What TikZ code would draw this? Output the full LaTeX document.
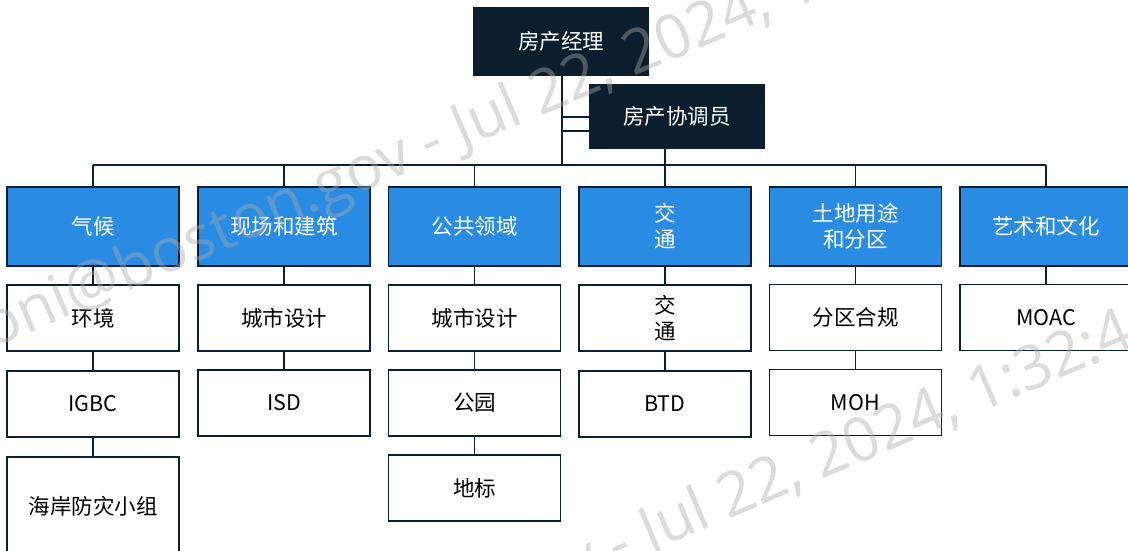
\documentclass[tikz,border=0pt]{standalone}
\usepackage{fontspec}
\setmainfont{Noto Sans CJK SC}
\newfontfamily\stampfont{Open Sans}
\definecolor{navy}{HTML}{0C1F2E}
\definecolor{midblue}{HTML}{2A8BE2}
\definecolor{stampgray}{HTML}{AAAAAA}

\begin{document}
\begin{tikzpicture}[x=1pt,y=-1pt,
    box/.style={draw=navy,line width=1.8pt,minimum width=172pt,minimum height=66pt,
      inner sep=0pt,align=center,font=\fontsize{21.5}{26}\selectfont},
    head/.style={box,fill=navy,text=white,minimum width=174pt},
    group/.style={box,fill=midblue,text=white,minimum height=79pt},
    unit/.style={box,fill=white,text=black},
    link/.style={draw=navy,line width=1.8pt},
    stamp/.style={text=stampgray,opacity=0.42,rotate=23,anchor=base west,inner sep=0pt,
      font=\stampfont\fontsize{61}{64}\selectfont}]
  \useasboundingbox[fill=white] (0,0) rectangle (1128,551);

  \node[head,minimum height=67pt] (mgr) at (561,41.5) {房产经理};
  \node[head,minimum height=63pt] (coord) at (677,116.5) {房产协调员};

  \node[group] (clim) at (93,226.5) {气候};
  \node[group] (site) at (284,226.5) {现场和建筑};
  \node[group] (pub) at (474.5,226.5) {公共领域};
  \node[group] (trans) at (665,226.5) {交\\通};
  \node[group] (land) at (855.5,226.5) {土地用途\\和分区};
  \node[group] (arts) at (1046,226.5) {艺术和文化};

  \node[unit] (clim1) at (93,318) {环境};
  \node[unit] (clim2) at (93,404) {IGBC};
  \node[unit,minimum height=98pt] (clim3) at (93,506) {海岸防灾小组};
  \node[unit] (site1) at (284,318) {城市设计};
  \node[unit] (site2) at (284,403) {ISD};
  \node[unit] (pub1) at (474.5,318) {城市设计};
  \node[unit] (pub2) at (474.5,403) {公园};
  \node[unit] (pub3) at (474.5,488) {地标};
  \node[unit] (trans1) at (665,318) {交\\通};
  \node[unit] (trans2) at (665,404) {BTD};
  \node[unit] (land1) at (855.5,317.5) {分区合规};
  \node[unit] (land2) at (855.5,402.5) {MOH};
  \node[unit] (arts1) at (1046,317.5) {MOAC};

  \coordinate (bar) at (0,165);
  \draw[link] (mgr.south -| 562,0) -- (562,165);
  \draw[link] (562,117) -- (coord.west |- 0,117);
  \draw[link] (562,131) -- (coord.west |- 0,131);
  \draw[link] (coord.south -| 665,0) -- (665,165);
  \draw[link] (clim.north |- bar) -- (arts.north |- bar);
  \foreach \n in {clim,site,pub,trans,land,arts}
    \draw[link] (\n.north |- bar) -- (\n.north);
  \draw[link] (clim) -- (clim1) (clim1) -- (clim2) (clim2) -- (clim3);
  \draw[link] (site) -- (site1) (site1) -- (site2);
  \draw[link] (pub) -- (pub1) (pub1) -- (pub2) (pub2) -- (pub3);
  \draw[link] (trans) -- (trans1) (trans1) -- (trans2);
  \draw[link] (land) -- (land1) (land1) -- (land2);
  \draw[link] (arts) -- (arts1);

  \node[stamp] (stamp1) at (-8,349) {oni@boston.gov - Jul 22, 2024, 1:32:4};
  \node[stamp] (stamp2) at (180,752) {oni@boston.gov - Jul 22, 2024, 1:32:4};
\end{tikzpicture}
\end{document}
